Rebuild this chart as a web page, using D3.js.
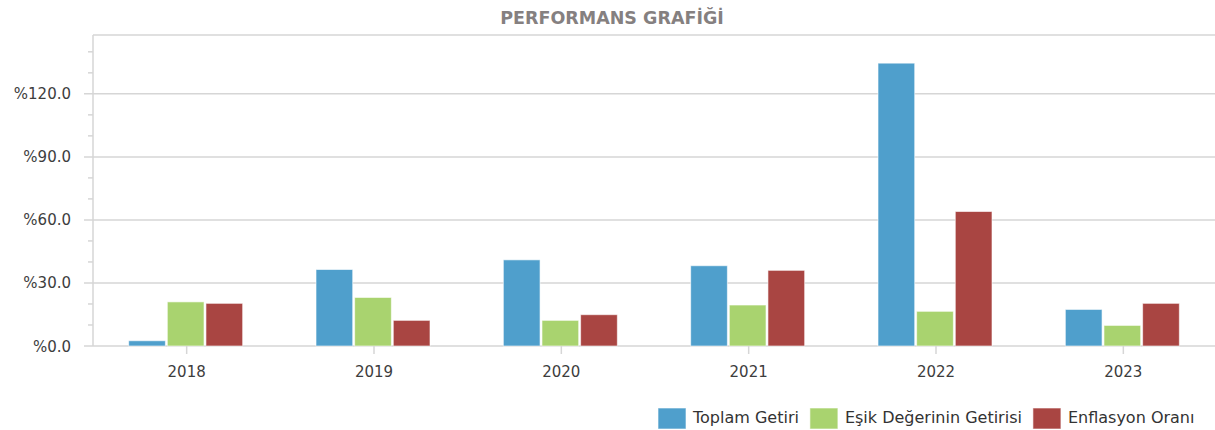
<!DOCTYPE html>
<html lang="tr">
<head>
    <meta charset="UTF-8">
    <title>Performans Grafiği</title>
    <script src="https://d3js.org/d3.v7.min.js"></script>
    <style>
        body { margin: 0; background: #fff; }
        svg { display: block; font-family: "DejaVu Sans", sans-serif; }
        .grid line { stroke: #d6d6d6; stroke-width: 1.5; }
        .tick-label { fill: #3d3d3d; font-size: 15px; }
        .legend-text { fill: #333; font-size: 16px; }
    </style>
</head>
<body>
<div id="chart"></div>
<script>
    // chart data
    const years = ["2018", "2019", "2020", "2021", "2022", "2023"];
    const seriesNames = ["Toplam Getiri", "Eşik Değerinin Getirisi", "Enflasyon Oranı"];
    const toplamGetiri = [2.5, 36.4, 41.0, 38.2, 134.6, 17.4];
    const esikGetirisi = [21.0, 23.1, 12.2, 19.5, 16.5, 9.8];
    const enflasyonOrani = [20.3, 12.2, 14.9, 36.0, 64.0, 20.3];
    const yTicks = [0, 30, 60, 90, 120];
    const colors = ["#4f9fcc", "#a9d36f", "#a94542"];

    const width = 1215, height = 430;
    const plotLeft = 93, plotTop = 35, plotBottom = 346;

    const svg = d3.select("#chart").append("svg")
        .attr("width", width)
        .attr("height", height);

    const x = d3.scaleBand().domain(years).range([plotLeft, 1217]);
    const y = d3.scaleLinear().domain([0, 148]).range([plotBottom, plotTop]);
    const x1 = d3.scaleBand().domain(seriesNames).range([-58, 56]).paddingInner(0.05);

    // title
    svg.append("text")
        .attr("x", 612)
        .attr("y", 24)
        .attr("text-anchor", "middle")
        .style("font-size", "17.5px")
        .style("font-weight", "bold")
        .style("fill", "#858080")
        .text("PERFORMANS GRAFİĞİ");

    // top border
    svg.append("line")
        .attr("x1", plotLeft).attr("x2", width)
        .attr("y1", plotTop).attr("y2", plotTop)
        .attr("stroke", "#d6d6d6").attr("stroke-width", 1.5);

    // grid lines + major ticks
    const grid = svg.append("g").attr("class", "grid");
    grid.selectAll("line")
        .data(yTicks)
        .join("line")
        .attr("x1", 84).attr("x2", width)
        .attr("y1", d => y(d)).attr("y2", d => y(d));

    // minor ticks
    const minor = d3.range(10, 150, 10).filter(d => d % 30 !== 0);
    svg.append("g").selectAll("line")
        .data(minor)
        .join("line")
        .attr("x1", 88).attr("x2", plotLeft)
        .attr("y1", d => y(d)).attr("y2", d => y(d))
        .attr("stroke", "#d6d6d6").attr("stroke-width", 1.5);

    // left axis line
    svg.append("line")
        .attr("x1", plotLeft).attr("x2", plotLeft)
        .attr("y1", plotTop).attr("y2", plotBottom)
        .attr("stroke", "#d6d6d6").attr("stroke-width", 1.5);

    // y labels
    svg.append("g").selectAll("text")
        .data(yTicks)
        .join("text")
        .attr("class", "tick-label")
        .attr("x", 71)
        .attr("y", d => y(d) + 5.5)
        .attr("text-anchor", "end")
        .text(d => "%" + d.toFixed(1));

    // bars
    const rows = years.map((yr, i) => ({
        year: yr,
        values: [toplamGetiri[i], esikGetirisi[i], enflasyonOrani[i]]
    }));

    const groups = svg.append("g").selectAll("g")
        .data(rows)
        .join("g")
        .attr("transform", d => `translate(${x(d.year) + x.bandwidth() / 2},0)`);

    groups.selectAll("rect")
        .data(d => d.values.map((v, j) => ({ name: seriesNames[j], value: v, color: colors[j] })))
        .join("rect")
        .attr("x", d => x1(d.name))
        .attr("y", d => y(d.value))
        .attr("width", x1.bandwidth())
        .attr("height", d => plotBottom - y(d.value))
        .attr("fill", d => d.color)
        .attr("stroke", "rgba(255,255,255,0.6)")
        .attr("stroke-width", 1);

    // x ticks & labels
    const xg = svg.append("g");
    xg.selectAll("line")
        .data(years)
        .join("line")
        .attr("x1", d => x(d) + x.bandwidth() / 2)
        .attr("x2", d => x(d) + x.bandwidth() / 2)
        .attr("y1", plotBottom).attr("y2", plotBottom + 8)
        .attr("stroke", "#d6d6d6").attr("stroke-width", 1.5);
    xg.selectAll("text")
        .data(years)
        .join("text")
        .attr("class", "tick-label")
        .attr("x", d => x(d) + x.bandwidth() / 2)
        .attr("y", 377)
        .attr("text-anchor", "middle")
        .text(d => d);

    // legend
    const legend = svg.append("g");
    let lx = 658;
    seriesNames.forEach((name, i) => {
        legend.append("rect")
            .attr("x", lx).attr("y", 408)
            .attr("width", 28).attr("height", 21)
            .attr("fill", colors[i])
            .attr("stroke", "rgba(255,255,255,0.6)");
        const t = legend.append("text")
            .attr("class", "legend-text")
            .attr("x", lx + 35)
            .attr("y", 423)
            .text(name);
        lx += 35 + t.node().getComputedTextLength() + 11;
    });
</script>
</body>
</html>
